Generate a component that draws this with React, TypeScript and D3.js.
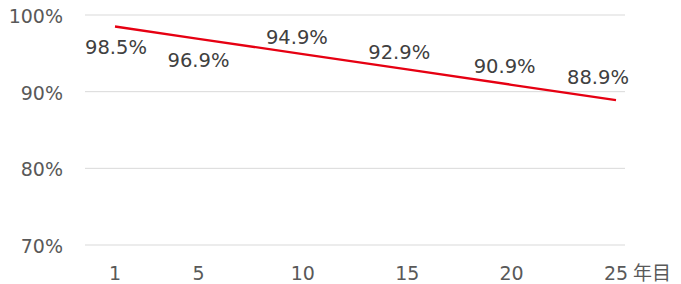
import * as d3 from 'd3'

const years = [1, 5, 10, 15, 20, 25]
const retention = [0.985, 0.969, 0.949, 0.929, 0.909, 0.889]
const valueLabels = ['98.5%', '96.9%', '94.9%', '92.9%', '90.9%', '88.9%']
const yTicks = [0.7, 0.8, 0.9, 1.0]
const unitLabel = '年目'

// label nudges (dx, dy) relative to each point, like the original layout
const LABEL_OFFSETS: [number, number][] = [
  [1, 21],
  [0, 22],
  [-6, -17],
  [-8, -17],
  [-7, -18],
  [-18, -23],
]

const W = 681
const H = 284
const FONT = '"DejaVu Sans", Verdana, sans-serif'

export default function App() {
  const x = d3.scaleLinear().domain([1, 25]).range([115, 616])
  const y = d3.scaleLinear().domain([0.7, 1.0]).range([245, 15])

  const gridLeft = 85
  const gridRight = 625

  const line = d3
    .line<number>()
    .x((_, i) => x(years[i]))
    .y((d) => y(d))

  const pct = d3.format('.0%')

  return (
    <svg
      width={W}
      height={H}
      style={{ position: 'absolute', left: 0, top: 0, display: 'block', background: '#fff' }}
    >
      {yTicks.map((t) => (
        <g key={t}>
          <line
            x1={gridLeft}
            x2={gridRight}
            y1={y(t)}
            y2={y(t)}
            stroke="#d9d9d9"
            strokeWidth={1}
          />
          <text
            x={63}
            y={y(t) + 1}
            textAnchor="end"
            dominantBaseline="central"
            fontFamily={FONT}
            fontSize={19}
            fill="#595959"
          >
            {pct(t)}
          </text>
        </g>
      ))}

      <path d={line(retention) ?? ''} fill="none" stroke="#e60012" strokeWidth={2.3} />

      {retention.map((v, i) => (
        <text
          key={i}
          x={x(years[i]) + LABEL_OFFSETS[i][0]}
          y={y(v) + LABEL_OFFSETS[i][1]}
          textAnchor="middle"
          dominantBaseline="central"
          fontFamily={FONT}
          fontSize={19.5}
          fill="#404040"
        >
          {valueLabels[i]}
        </text>
      ))}

      {years.map((yr) => (
        <text
          key={yr}
          x={x(yr)}
          y={280}
          textAnchor="middle"
          fontFamily={FONT}
          fontSize={19}
          fill="#595959"
        >
          {yr}
        </text>
      ))}
      <text
        x={x(years[years.length - 1]) + 17}
        y={280}
        fontFamily='"Noto Sans CJK JP", sans-serif'
        fontSize={19}
        fill="#595959"
      >
        {unitLabel}
      </text>
    </svg>
  )
}
